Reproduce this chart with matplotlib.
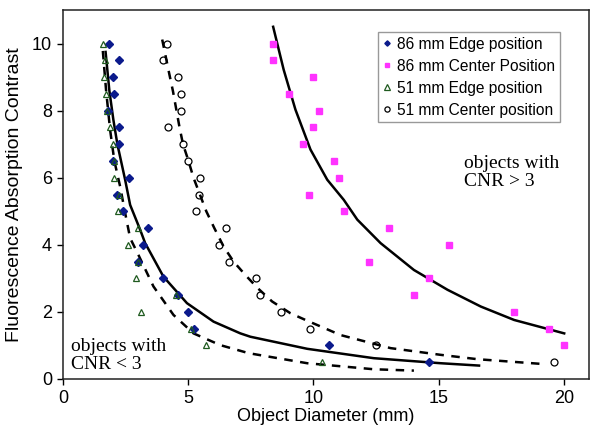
import matplotlib
matplotlib.use("Agg")
import matplotlib.pyplot as plt

plt.rcParams["font.family"] = ["Liberation Sans", "DejaVu Sans"]

# contrast levels shared by the measured series
contrast = [10, 9.5, 9, 8.5, 8, 7.5, 7, 6.5, 6, 5.5, 5, 4.5, 4, 3.5, 3, 2.5, 2, 1.5, 1, 0.5]
contrast_86c = [10, 9.5, 9, 8.5, 8, 7.5, 7, 6.5, 6, 5.5, 5, 4.5, 4, 3.5, 3, 2.5, 2, 1.5, 1]

# smallest detectable object diameter (mm) for each contrast level
diam_86_edge = [1.85, 2.25, 2.01, 2.04, 1.81, 2.25, 2.25, 2.01, 2.65, 2.17,
                2.39, 3.41, 3.21, 3.01, 4.01, 4.61, 5.01, 5.21, 10.61, 14.61]
diam_86_center = [8.39, 8.39, 9.99, 9.01, 10.21, 9.99, 9.59, 10.81, 11.01, 9.81,
                  11.21, 13.01, 15.41, 12.21, 14.61, 14.01, 17.99, 19.41, 20.01]
diam_51_edge = [1.61, 1.68, 1.64, 1.72, 1.75, 1.88, 2.01, 2.04, 2.04, 2.25,
                2.21, 3.01, 2.61, 3.01, 2.92, 4.52, 3.12, 5.12, 5.71, 10.35]
diam_51_center = [4.17, 3.99, 4.61, 4.71, 4.71, 4.21, 4.79, 5.01, 5.48, 5.41,
                  5.32, 6.52, 6.21, 6.61, 7.72, 7.88, 8.71, 9.85, 12.48, 19.59]

# fitted trend curves
fit_86e_x = [1.70, 1.85, 2.01, 2.17, 2.48, 2.68, 3.08, 3.28, 4.01, 4.95, 6.01,
             7.08, 7.48, 9.75, 12.41, 15.08, 16.61]
fit_86e_y = [9.75, 8.6, 7.73, 7.0, 5.94, 5.19, 4.45, 4.05, 3.05, 2.26, 1.71,
             1.36, 1.26, 0.90, 0.62, 0.47, 0.40]
fit_51e_x = [1.59, 1.72, 1.88, 2.05, 2.28, 2.48, 2.68, 3.01, 3.61, 4.41, 5.21,
             6.28, 7.41, 9.75, 12.41, 14.01]
fit_51e_y = [9.78, 8.6, 7.43, 6.5, 5.74, 4.95, 4.2, 3.7, 2.76, 1.91, 1.36,
             1.01, 0.77, 0.47, 0.29, 0.25]
fit_51c_x = [3.96, 4.25, 4.39, 4.65, 4.79, 5.01, 5.21, 5.72, 6.04, 6.41, 6.81,
             7.28, 7.77, 8.35, 9.08, 9.68, 11.08, 13.08, 15.08, 16.55, 19.28]
fit_51c_y = [10.12, 9.07, 8.58, 7.51, 7.0, 6.5, 6.0, 5.0, 4.5, 3.95, 3.5,
             3.1, 2.71, 2.31, 1.96, 1.76, 1.31, 0.92, 0.72, 0.59, 0.44]
fit_86c_x = [8.39, 8.81, 9.28, 9.88, 10.55, 11.21, 11.75, 12.68, 14.01, 15.35,
             16.68, 18.01, 20.01]
fit_86c_y = [10.5, 9.22, 8.03, 6.84, 5.94, 5.34, 4.75, 4.05, 3.25, 2.66,
             2.16, 1.76, 1.36]

fig = plt.figure(figsize=(5.9, 4.28), dpi=100)
ax = fig.add_axes([0.1068, 0.1145, 0.8915, 0.8621])

lw = 1.8
dash = (0, (3.4, 3.0))
ax.plot(fit_86e_x, fit_86e_y, color="black", lw=lw, zorder=2)
ax.plot(fit_86c_x, fit_86c_y, color="black", lw=lw, zorder=2)
ax.plot(fit_51e_x, fit_51e_y, color="black", lw=lw, linestyle=dash, zorder=2)
ax.plot(fit_51c_x, fit_51c_y, color="black", lw=lw, linestyle=dash, zorder=2)

ax.plot(diam_86_edge, contrast, "D", ms=3.6, color="#0b1a8c", mec="#0b1a8c",
        linestyle="none", label="86 mm Edge position", zorder=3)
ax.plot(diam_86_center, contrast_86c, "s", ms=4.8, color="#ff33ff", mec="#ff33ff",
        linestyle="none", label="86 mm Center Position", zorder=3)
ax.plot(diam_51_edge, contrast, "^", ms=5, mfc="none", mec="#1f5a1f", mew=0.9,
        linestyle="none", label="51 mm Edge position", zorder=3)
ax.plot(diam_51_center, contrast, "o", ms=5, mfc="none", mec="black", mew=0.9,
        linestyle="none", label="51 mm Center position", zorder=3)

ax.set_xlim(0, 21)
ax.set_ylim(0, 11)
ax.set_xticks([0, 5, 10, 15, 20])
ax.set_yticks([0, 2, 4, 6, 8, 10])
ax.tick_params(direction="out", length=4, width=1, labelsize=13, pad=4)
for sp in ax.spines.values():
    sp.set_linewidth(1.1)
    sp.set_color("#222222")

ax.set_xlabel("Object Diameter (mm)", fontsize=13, labelpad=1)
ax.set_ylabel("Fluorescence Absorption Contrast", fontsize=14, labelpad=6)

serif = ["Liberation Serif", "DejaVu Serif"]
ax.text(16.0, 6.68, "objects with\nCNR > 3", family=serif, fontsize=14,
        va="top", ha="left", linespacing=1.1)
ax.text(0.32, 1.22, "objects with\nCNR < 3", family=serif, fontsize=14,
        va="top", ha="left", linespacing=1.1)

leg = ax.legend(loc="upper right", bbox_to_anchor=(0.945, 0.94), borderaxespad=0,
                fontsize=11.2, fancybox=False, edgecolor="#999999", framealpha=1,
                handlelength=0.6, handletextpad=0.35, labelspacing=0.45,
                borderpad=0.3, markerscale=0.75)
leg.get_frame().set_linewidth(1.0)

fig.savefig("out.png", dpi=100)
